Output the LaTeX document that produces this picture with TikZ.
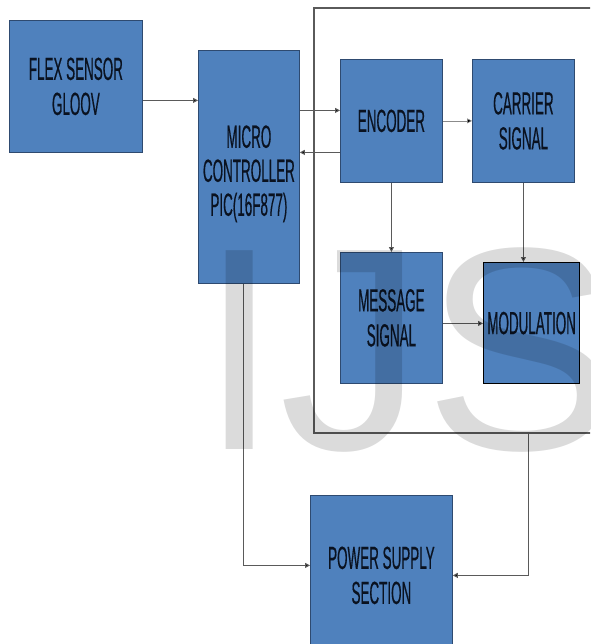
\documentclass[tikz,border=0pt]{standalone}
\usepackage{fontspec}
\newfontfamily\boxfont{Liberation Sans}[FakeStretch=0.42,FakeBold=0.4]
\newfontfamily\wmfont{Liberation Sans}
\usetikzlibrary{arrows.meta}
\definecolor{boxblue}{HTML}{4F81BD}
\definecolor{boxedge}{HTML}{2E4A70}
\definecolor{txt}{HTML}{0A1220}
\definecolor{linegray}{HTML}{5A5A5A}
\begin{document}
\begin{tikzpicture}[x=1pt,y=-1pt,
  blk/.style={draw=boxedge, line width=0.8pt, fill=boxblue, inner sep=0pt,
    anchor=north west, align=center, text=txt,
    font=\boxfont\fontsize{32}{35}\selectfont},
  lbl/.style={inner sep=0pt, align=center, text=txt,
    font=\boxfont\fontsize{32}{34}\selectfont},
  arr/.style={draw=linegray, line width=1pt, -{Triangle[length=5pt,width=5pt,fill=black]}},
  arrthin/.style={draw=linegray!70, line width=0.6pt, -{Triangle[length=5pt,width=5pt,fill=black]}},
  frame/.style={draw=linegray, line width=1.3pt}]
\useasboundingbox (0,0) rectangle (590,644);
\clip (0,0) rectangle (590,644);
\fill[white] (0,0) rectangle (590,644);

\node[blk, minimum width=133pt, minimum height=132pt] (flex) at (9,20) {FLEX SENSOR\\GLOOV};
\node[blk, minimum width=101pt, minimum height=233pt] (mcu) at (198,50) {};
\node[lbl] (mcut) at ([yshift=-7pt]mcu.center) {MICRO\\CONTROLLER\\PIC(16F877)};
\node[blk, minimum width=102pt, minimum height=123pt] (enc) at (340,59) {ENCODER};
\node[blk, minimum width=102pt, minimum height=123pt] (car) at (472,59) {CARRIER\\SIGNAL};
\node[blk, minimum width=102pt, minimum height=131pt] (msg) at (340,252) {MESSAGE\\SIGNAL};
\node[blk, draw=black, line width=1.2pt, minimum width=96pt, minimum height=121pt] (mod) at (483,262) {MODULATION};
\node[blk, minimum width=142pt, minimum height=160pt] (psu) at (310,495) {POWER SUPPLY\\SECTION};

\draw[frame] (600,8) -- (314,8) -- (314,433) -- (600,433);
\coordinate (fb) at (528,433);

\draw[arr] ([yshift=-14pt]flex.east) coordinate (p1) -- (p1 -| mcu.west);
\draw[arr] ([yshift=56.5pt]mcu.east) coordinate (p2) -- (p2 -| enc.west);
\draw[arr] ([yshift=-31.5pt]enc.west) coordinate (p3) -- (p3 -| mcu.east);
\draw[arrthin] (enc.east) -- (car.west);
\draw[arr] (enc.south) -- (msg.north);
\draw[arr] (car.south) -- (car.south |- mod.north);
\draw[arr] ([yshift=-5.5pt]msg.east) coordinate (p4) -- (p4 -| mod.west);
\draw[arr] (fb) |- (psu.east);
\draw[arr] ([xshift=-5pt]mcu.south) |- ([yshift=10pt]psu.west);

\node[anchor=base west, inner sep=0pt, text=black, text opacity=0.14,
  font=\wmfont\fontsize{289}{289}\selectfont] (wm) at (199,449) {IJS};
\end{tikzpicture}
\end{document}
